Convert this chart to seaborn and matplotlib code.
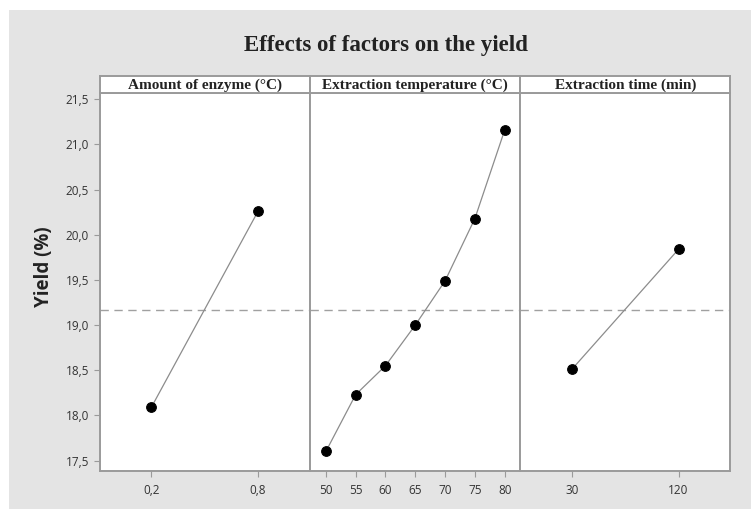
import numpy as np
import pandas as pd
import seaborn as sns
import matplotlib
matplotlib.use("Agg")
import matplotlib.pyplot as plt
from matplotlib.patches import Rectangle
from matplotlib.ticker import FuncFormatter

# ---- data ----
title = "Effects of factors on the yield"
panel_titles = ["Amount of enzyme (°C)", "Extraction temperature (°C)", "Extraction time (min)"]
enzyme_levels = [0.2, 0.8]
enzyme_yield = [18.09, 20.26]
temp_levels = [50, 55, 60, 65, 70, 75, 80]
temp_yield = [17.60, 18.23, 18.55, 19.00, 19.49, 20.18, 21.16]
time_levels = [30, 120]
time_yield = [18.51, 19.84]
enzyme_ticklabels = ["0,2", "0,8"]
temp_ticklabels = ["50", "55", "60", "65", "70", "75", "80"]
time_ticklabels = ["30", "120"]
y_ticks = [17.5, 18.0, 18.5, 19.0, 19.5, 20.0, 20.5, 21.0, 21.5]
grand_mean = 19.17

sns.set_theme(style="white")
plt.rcParams['font.family'] = ['Open Sans', 'DejaVu Sans']

W, H = 751, 509
fig = plt.figure(figsize=(W / 100, H / 100), dpi=100)
fig.patch.set_facecolor("white")
fig.patches.append(Rectangle((9 / W, 0), 1, 1 - 10 / H, transform=fig.transFigure,
                             facecolor="#e4e4e4", edgecolor="none", zorder=-10))

left_px, right_px = 99.6, 730.5
top_px, bottom_px = 93, 471
hdr_top_px = 76
pw = (right_px - left_px) / 3

panels = [
    (enzyme_levels, enzyme_yield, enzyme_ticklabels, (-0.0915, 1.092)),
    (temp_levels, temp_yield, temp_ticklabels, (47.32, 82.6)),
    (time_levels, time_yield, time_ticklabels, (-13.6, 163.8)),
]
edge = "#9a9a9a"
for i, (xs, ys, tl, xl) in enumerate(panels):
    x0 = left_px + i * pw
    ax = fig.add_axes([x0 / W, 1 - bottom_px / H, pw / W, (bottom_px - top_px) / H])
    ax.set_facecolor("white")
    df = pd.DataFrame({"x": xs, "y": ys})
    ax.axhline(grand_mean, color="#a0a0a0", lw=1.0, ls=(0, (6, 4)), zorder=1)
    sns.lineplot(data=df, x="x", y="y", ax=ax, color="#8c8c8c", lw=0.9,
                 marker="o", markersize=7, markerfacecolor="black",
                 markeredgecolor="black", zorder=3)
    ax.set_xlim(*xl)
    ax.set_ylim(17.384, 21.57)
    ax.set_xticks(xs)
    ax.set_xticklabels(tl)
    ax.set_xlabel("")
    ax.set_ylabel("")
    for s in ax.spines.values():
        s.set_color(edge)
        s.set_linewidth(1.4)
    ax.tick_params(axis="x", length=4, width=0.8, color=edge, labelsize=8.5,
                   labelcolor="#333333", direction="out", bottom=True, pad=5)
    if i == 0:
        ax.set_yticks(y_ticks)
        ax.yaxis.set_major_formatter(FuncFormatter(lambda v, p: f"{v:.1f}".replace(".", ",")))
        ax.tick_params(axis="y", length=4, width=0.8, color=edge, labelsize=8.5,
                       labelcolor="#333333", direction="out", left=True)
        ax.set_ylabel("Yield (%)", fontsize=13.5, fontweight="bold", color="#222222")
        ax.yaxis.set_label_coords(-0.215, 0.54)
    else:
        ax.set_yticks([])
    # header strip
    hx = fig.add_axes([x0 / W, 1 - top_px / H, pw / W, (top_px - hdr_top_px) / H])
    hx.set_facecolor("white")
    hx.set_xticks([]); hx.set_yticks([])
    for s in hx.spines.values():
        s.set_color(edge)
        s.set_linewidth(1.4)
    hx.text(0.5, 0.45, panel_titles[i], ha="center", va="center", transform=hx.transAxes,
            fontsize=11, fontweight="bold", family="Liberation Serif", color="#222222")

fig.text(386 / W, 1 - 46 / H, title, ha="center", va="center",
         fontsize=16.5, fontweight="bold", family="Liberation Serif", color="#222222")

fig.savefig("out.png", dpi=100, facecolor=fig.get_facecolor())
